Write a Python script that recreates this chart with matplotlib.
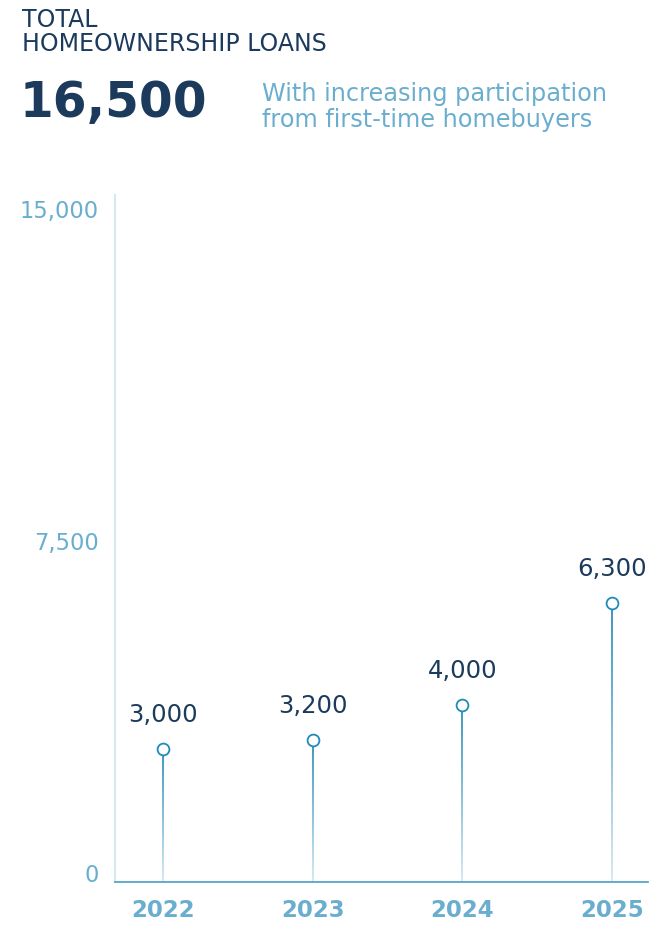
import numpy as np
import matplotlib
matplotlib.use("Agg")
import matplotlib.pyplot as plt
from matplotlib.collections import LineCollection
from matplotlib.colors import LinearSegmentedColormap

plt.rcParams["font.family"] = ["DejaVu Sans"]

NAVY = "#1b3a5c"
LIGHT = "#6aaecf"

years = ["2022", "2023", "2024", "2025"]
loans = [3000, 3200, 4000, 6300]
value_labels = ["3,000", "3,200", "4,000", "6,300"]
ytick_vals = [0, 7500, 15000]
ytick_labels = ["0", "7,500", "15,000"]

fig = plt.figure(figsize=(6.5, 9.26), dpi=100)
ax = fig.add_axes([0.177, 0.0475, 0.82, 0.7415])

# stems fade from light at the baseline to a stronger blue at the marker
stem_cmap = LinearSegmentedColormap.from_list("stem", ["#d3e7f1", "#2b8cb8"])
x = np.arange(len(years))
for xi, v in zip(x, loans):
    ys = np.linspace(0, v, 60)
    segs = [[(xi, ys[i]), (xi, ys[i + 1])] for i in range(len(ys) - 1)]
    lc = LineCollection(segs, colors=stem_cmap(np.linspace(0, 1, len(segs))),
                        linewidths=1.3, zorder=2)
    ax.add_collection(lc)

ax.plot(x, loans, linestyle="none", marker="o", markersize=8.5,
        markerfacecolor="white", markeredgecolor="#1f8bb8",
        markeredgewidth=1.3, zorder=3)

for xi, v, lab in zip(x, loans, value_labels):
    ax.annotate(lab, (xi, v), xytext=(0, 16), textcoords="offset points",
                ha="center", va="bottom", fontsize=17.5, color=NAVY)

ax.set_xlim(-0.32, 3.24)
ax.set_ylim(0, 15500)
ax.set_xticks(x)
ax.set_xticklabels(years, fontsize=16.5, fontweight="bold", color=LIGHT)
ax.set_yticks(ytick_vals)
ax.set_yticklabels(ytick_labels, fontsize=16.3, color=LIGHT)
ax.tick_params(axis="both", length=0)
ax.tick_params(axis="x", pad=12)
ax.tick_params(axis="y", pad=12)
for lab in ax.get_yticklabels():
    lab.set_verticalalignment("baseline")

for side in ("top", "right"):
    ax.spines[side].set_visible(False)
ax.spines["left"].set_color("#d6e8f2")
ax.spines["left"].set_linewidth(1.5)
ax.spines["bottom"].set_color("#5aa4c6")
ax.spines["bottom"].set_linewidth(1.3)

fig.text(22 / 650, 1 - 20 / 926, "TOTAL", fontsize=17, color=NAVY, va="center")
fig.text(22 / 650, 1 - 44 / 926, "HOMEOWNERSHIP LOANS", fontsize=17, color=NAVY,
         va="center")
fig.text(20 / 650, 1 - 103 / 926, "16,500", fontsize=35, fontweight="bold",
         color=NAVY, va="center")
fig.text(262 / 650, 1 - 94 / 926, "With increasing participation", fontsize=17.3,
         color=LIGHT, va="center")
fig.text(262 / 650, 1 - 120 / 926, "from first-time homebuyers", fontsize=17.3,
         color=LIGHT, va="center")

fig.savefig("out.png", dpi=100)
